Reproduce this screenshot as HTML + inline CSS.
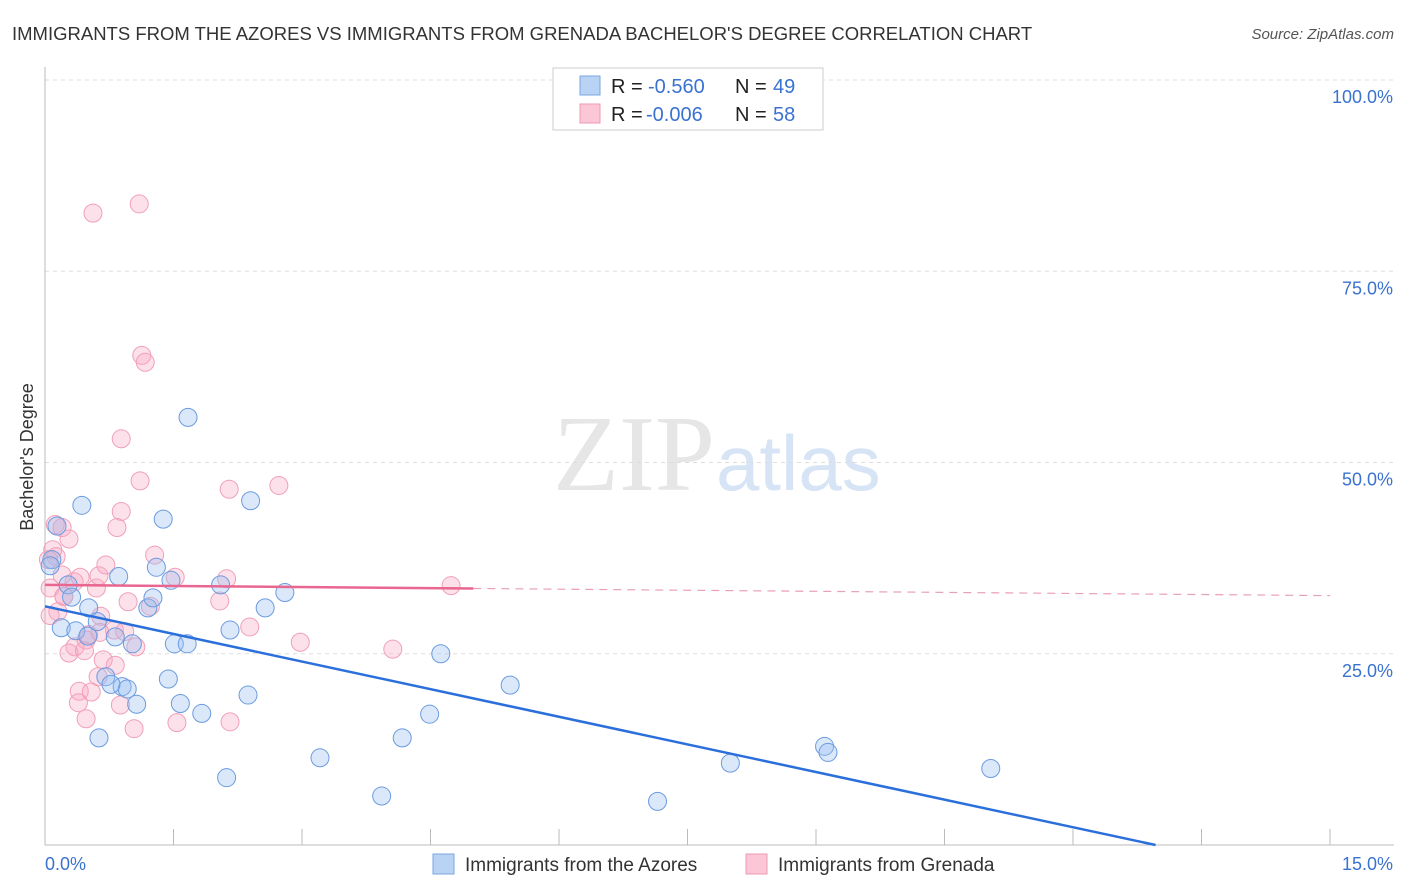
<!DOCTYPE html>
<html><head><meta charset="utf-8"><style>
body{margin:0;background:#fff;font-family:"Liberation Sans",sans-serif;}
#wrap{position:relative;width:1406px;height:892px;overflow:hidden;}
</style></head><body>
<div id="wrap">
<svg id="svg" width="1406" height="892" xmlns="http://www.w3.org/2000/svg" font-family="Liberation Sans, sans-serif">
<text x="12" y="40" font-size="18.5" fill="#333">IMMIGRANTS FROM THE AZORES VS IMMIGRANTS FROM GRENADA BACHELOR'S DEGREE CORRELATION CHART</text>
<text x="1394" y="39" font-size="15" fill="#555" font-style="italic" text-anchor="end">Source: ZipAtlas.com</text>
<text x="33" y="457" font-size="18" fill="#333" text-anchor="middle" transform="rotate(-90 33 457)">Bachelor's Degree</text>
<g>
<text x="553" y="490" font-size="108" fill="#e6e6e6" font-family="Liberation Serif, serif">ZIP</text>
<text x="716" y="490" font-size="78" fill="#d6e4f5">atlas</text>
</g>
<g id="grid"></g><g id="pts"></g><g id="lines"></g>
<g>
<rect x="553" y="68" width="270" height="62" fill="#fff" stroke="#ccc"/>
<rect x="580" y="76" width="20" height="19" fill="#b9d3f5" stroke="#7aa6e0"/>
<rect x="580" y="104" width="20" height="19" fill="#fbc6d5" stroke="#ee9ab2"/>
<text x="611" y="93" font-size="20" fill="#222">R = </text>
<text x="648" y="93" font-size="20" fill="#3a72d0">-0.560</text>
<text x="735" y="93" font-size="20" fill="#222">N = </text>
<text x="773" y="93" font-size="20" fill="#3a72d0">49</text>
<text x="611" y="121" font-size="20" fill="#222">R = </text>
<text x="646" y="121" font-size="20" fill="#3a72d0">-0.006</text>
<text x="735" y="121" font-size="20" fill="#222">N = </text>
<text x="773" y="121" font-size="20" fill="#3a72d0">58</text>
</g>
<g>
<rect x="433" y="854" width="21" height="20" fill="#b9d3f5" stroke="#7aa6e0"/>
<text x="465" y="871" font-size="19" fill="#333">Immigrants from the Azores</text>
<rect x="746" y="854" width="21" height="20" fill="#fbc6d5" stroke="#ee9ab2"/>
<text x="778" y="871" font-size="19" fill="#333">Immigrants from Grenada</text>
</g>
</svg></div>
<script>
const xTicks=[0,1.5,3,4.5,6,7.5,9,10.5,12,13.5,15];
const yTicks=[25,50,75,100];
const yTickLabels=["25.0%","50.0%","75.0%","100.0%"];
const azoresX=[0.14,0.08,0.06,0.43,0.27,0.31,0.51,0.19,0.36,0.5,0.61,0.82,0.86,1.02,0.71,0.9,0.96,1.07,0.77,0.63,1.2,1.26,1.30,1.38,1.47,1.44,1.51,1.58,1.66,1.67,1.83,2.05,2.16,2.12,2.37,2.40,2.57,2.80,3.21,3.93,4.17,4.49,4.62,5.43,7.15,8.0,9.1,9.14,11.04];
const azoresY=[41.7,37.3,36.5,44.4,34.0,32.4,31.0,28.4,28.0,27.3,29.2,27.2,35.1,26.3,22.0,20.7,20.4,18.4,21.0,14.0,31.0,32.3,36.3,42.6,34.6,21.7,26.3,18.5,26.3,55.9,17.2,34.0,28.1,8.8,19.6,45.0,31.0,33.0,11.4,6.4,14.0,17.1,25.0,20.9,5.7,10.7,12.9,12.1,10.0];
const grenadaX=[0.56,1.1,1.13,1.17,0.89,1.11,0.89,2.15,2.73,0.84,0.12,0.2,0.28,0.09,0.13,0.04,0.06,0.34,0.22,0.15,0.41,0.6,0.63,0.71,0.65,0.51,0.48,0.35,0.28,0.46,0.81,0.93,1.06,1.28,1.52,0.97,1.23,2.04,2.12,2.39,2.98,4.06,4.74,0.68,0.82,0.62,0.88,0.4,0.54,0.39,0.48,1.04,1.54,2.16,0.06,0.64,0.22,0.2];
const grenadaY=[82.6,83.8,64.0,63.1,53.1,47.6,43.6,46.5,47.0,41.5,41.9,41.5,40.0,38.6,37.7,37.3,33.6,34.4,32.5,30.5,35.0,33.6,35.2,36.6,29.9,27.5,26.8,25.9,25.1,25.4,28.1,27.9,25.9,37.9,35.0,31.8,31.2,31.9,34.8,28.5,26.5,25.6,33.9,24.2,23.5,22.0,18.3,20.1,20.0,18.6,16.5,15.2,16.0,16.1,30.0,27.8,32.5,35.3];
const trendA={x0:0,y0:31.2,x1:15,y1:-4.9};
const trendG={x0:0,y0:34.0,x1:15,y1:32.6,solidEnd:5.0};
const X=v=>45+v*(1330-45)/15, Y=v=>845-v*(845-80)/100;
const NS="http://www.w3.org/2000/svg";
function mk(t,a,p){const e=document.createElementNS(NS,t);for(const k in a)e.setAttribute(k,a[k]);p.appendChild(e);return e;}
const grid=document.getElementById('grid');
yTicks.forEach((v,i)=>{
 const l=mk('line',{x1:45,x2:1394,y1:Y(v),y2:Y(v),stroke:'#ddd','stroke-dasharray':'4,4'},grid);
 
 
 const t=mk('text',{x:1393,y:Y(v)+23,'font-size':18,fill:'#3a72d0','text-anchor':'end'},grid);t.textContent=yTickLabels[i];
 
 
});
const ax=mk('line',{x1:45,x2:1394,y1:845,y2:845,stroke:'#bbb'},grid);


const ay=mk('line',{x1:45,x2:45,y1:67,y2:845,stroke:'#bbb'},grid);


xTicks.forEach(v=>{const l=mk('line',{x1:X(v),x2:X(v),y1:829,y2:845,stroke:'#bbb'},grid);
 
 });
const tl=mk('text',{x:45,y:870,'font-size':18,fill:'#3a72d0'},grid);tl.textContent='0.0%';


const tr=mk('text',{x:1393,y:870,'font-size':18,fill:'#3a72d0','text-anchor':'end'},grid);tr.textContent='15.0%';


const pts=document.getElementById('pts');
grenadaX.forEach((x,i)=>{const c=mk('circle',{cx:X(x),cy:Y(grenadaY[i]),r:9,fill:'rgba(248,170,195,0.35)',stroke:'#f0a0b8','stroke-width':1},pts);
 
 });
azoresX.forEach((x,i)=>{const c=mk('circle',{cx:X(x),cy:Y(azoresY[i]),r:9,fill:'rgba(150,190,240,0.35)',stroke:'#6b9be0','stroke-width':1},pts);
 
 });
const lines=document.getElementById('lines');
const yAt=(t,x)=>t.y0+(t.y1-t.y0)*(x-t.x0)/(t.x1-t.x0);
let xe=trendA.x1; if(trendA.y1<0){xe=trendA.x0+(0-trendA.y0)*(trendA.x1-trendA.x0)/(trendA.y1-trendA.y0);}
const la=mk('line',{x1:X(trendA.x0),y1:Y(trendA.y0),x2:X(xe),y2:Y(Math.max(0,yAt(trendA,xe))),stroke:'#2a6fdb','stroke-width':2.5},lines);


const lg=mk('line',{x1:X(trendG.x0),y1:Y(trendG.y0),x2:X(trendG.solidEnd),y2:Y(yAt(trendG,trendG.solidEnd)),stroke:'#e8668f','stroke-width':2.5},lines);


const lgd=mk('line',{x1:X(trendG.solidEnd),y1:Y(yAt(trendG,trendG.solidEnd)),x2:X(trendG.x1),y2:Y(trendG.y1),stroke:'#e8a0b5','stroke-width':1.2,'stroke-dasharray':'8,6'},lines);


</script>
</body></html>
